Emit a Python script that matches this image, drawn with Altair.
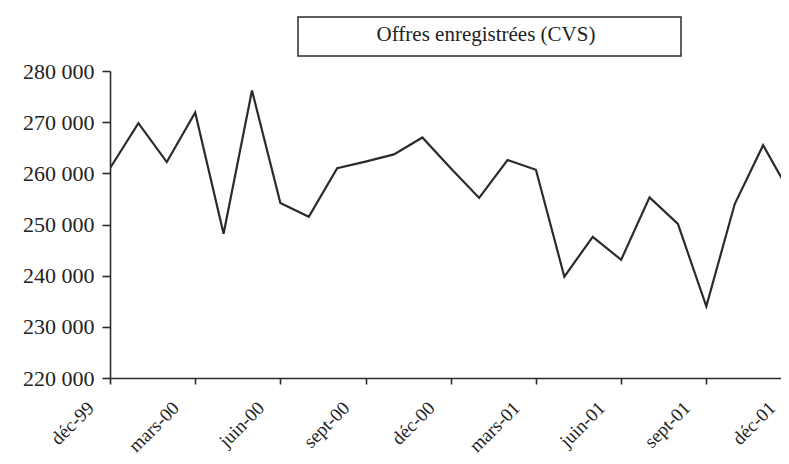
import altair as alt
import pandas as pd

# Monthly index: 0 = déc-99 ... 24 = déc-01
months = list(range(25))
values = [261000, 269800, 262200, 271900, 248200, 276200, 254200, 251500,
          261000, 262300, 263700, 267000, 261000, 255200, 262600, 260700,
          239800, 247600, 243100, 255300, 250100, 234000, 254000, 265500,
          255600]
tick_months = [0, 3, 6, 9, 12, 15, 18, 21, 24]
tick_labels = ["déc-99", "mars-00", "juin-00", "sept-00", "déc-00",
               "mars-01", "juin-01", "sept-01", "déc-01"]
y_ticks = [220000, 230000, 240000, 250000, 260000, 270000, 280000]
title_text = "Offres enregistrées (CVS)"

FONT = "Liberation Serif"
INK = "#2b2b2b"

df = pd.DataFrame({"m": months, "v": values})
lab = pd.DataFrame({"m": tick_months, "lab": tick_labels})
ttl = pd.DataFrame({"t": [title_text]})

xscale = alt.Scale(domain=[0, 23.63], nice=False, zero=False)
yscale = alt.Scale(domain=[220000, 280000], nice=False, zero=False)

line = alt.Chart(df).mark_line(clip=True, color=INK, strokeWidth=2.2).encode(
    x=alt.X("m:Q", scale=xscale,
            axis=alt.Axis(values=tick_months[:-1], labels=False, title=None,
                          grid=False, tickSize=6, domainColor=INK,
                          tickColor=INK, domainWidth=1.6, tickWidth=1.6)),
    y=alt.Y("v:Q", scale=yscale,
            axis=alt.Axis(values=y_ticks, title=None, grid=False,
                          labelExpr="replace(format(datum.value, ','), ',', ' ')",
                          labelFont=FONT, labelFontSize=22, labelColor="#222",
                          labelPadding=8, tickSize=8, domainColor=INK,
                          tickColor=INK, domainWidth=1.6, tickWidth=1.6)),
)

xlabels = alt.Chart(lab).mark_text(
    angle=315, align="right", baseline="middle", font=FONT, fontSize=19,
    color="#222", dx=-27, dy=0
).encode(
    x=alt.X("m:Q", scale=xscale),
    y=alt.value(315),
    text="lab:N",
)

box = alt.Chart(ttl).mark_rect(fill="white", stroke=INK, strokeWidth=1.5).encode(
    x=alt.value(188), x2=alt.value(571), y=alt.value(-54), y2=alt.value(-15)
)
btext = alt.Chart(ttl).mark_text(
    font=FONT, fontSize=21, color="#222", align="center", baseline="middle"
).encode(x=alt.value(376), y=alt.value(-36), text="t:N")

chart = alt.layer(line, xlabels, box, btext).properties(
    width=671, height=307,
    autosize=alt.AutoSizeParams(type="none"),
    padding={"left": 102, "top": 63, "right": 0, "bottom": 78},
    background="white",
).configure_view(stroke=None)

chart.save("out.html", embed_options={"renderer": "svg", "actions": False})
